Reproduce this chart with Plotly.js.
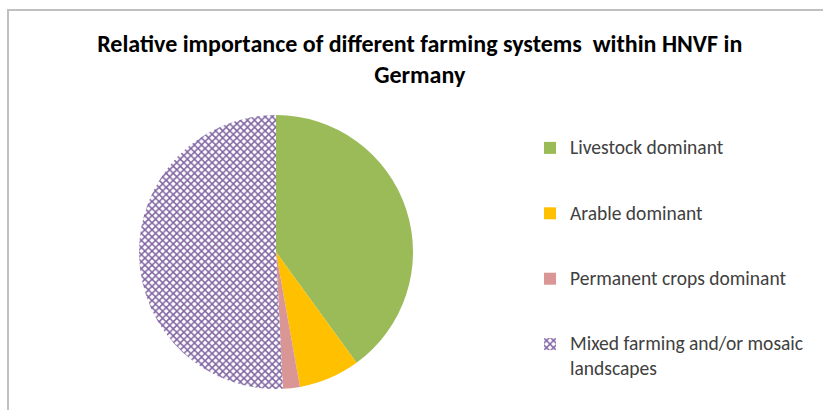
<!DOCTYPE html>
<html>
<head>
<meta charset="utf-8">
<script src="https://cdn.plot.ly/plotly-3.0.1.min.js"></script>
<style>html,body{margin:0;padding:0;background:#fff;}#chart{width:823px;height:410px;}</style>
</head>
<body>
<div id="chart"></div>
<script>
var categories = ["Livestock dominant", "Arable dominant", "Permanent crops dominant", "Mixed farming and/or mosaic<br>landscapes"];
var shares = [40, 7.2, 2, 50.8];
var colors = ["#9BBB59", "#FFC000", "#D99694", "#FFFFFF"];
var titleText = "Relative importance of different farming systems  within HNVF in<br>Germany";

var legendLabels = categories.map(function (c, i) {
  var parts = c.split("<br>");
  var styled = "<span style='font-size:19.5px'>" + parts[0] + "</span>";
  if (parts.length > 1) {
    styled += "<br><span style='font-size:19.5px;baseline-shift:-3.5px'>" + parts[1] + "</span>";
  }
  return i < categories.length - 1 ? styled + "<br> <br> " : styled;
});

var trace = {
  type: "pie",
  labels: legendLabels,
  values: shares,
  sort: false,
  direction: "clockwise",
  rotation: 0,
  textinfo: "none",
  hoverinfo: "none",
  domain: {x: [139 / 823, 413 / 823], y: [21 / 410, 295 / 410]},
  marker: {
    colors: colors,
    line: {width: 0},
    pattern: {
      shape: ["", "", "", "x"],
      fgcolor: "#8064A2",
      bgcolor: "#FFFFFF",
      size: 5,
      solidity: 0.5
    }
  }
};

var layout = {
  width: 823,
  height: 410,
  margin: {l: 0, r: 0, t: 0, b: 0},
  paper_bgcolor: "#FFFFFF",
  font: {family: "Carlito, 'Liberation Sans Narrow', 'Open Sans', sans-serif", color: "#404040"},
  title: {
    text: titleText,
    font: {family: "Carlito, 'Liberation Sans Narrow', 'Open Sans', sans-serif", size: 24, color: "#000000", weight: "bold"},
    x: 0.51, xanchor: "center",
    y: 1 - 52 / 410, yanchor: "top"
  },
  showlegend: true,
  legend: {
    x: 530 / 823, xanchor: "left",
    y: 1 - 131 / 410, yanchor: "top",
    font: {size: 16, color: "#404040"},
    valign: "top",
    itemwidth: 30,
    bgcolor: "rgba(0,0,0,0)"
  },
  shapes: [{
    type: "rect", xref: "paper", yref: "paper",
    x0: 8 / 823, x1: 1.01, y0: -0.02, y1: 1 - 10 / 410,
    line: {color: "#C0C0C0", width: 2}
  }]
};

Plotly.newPlot("chart", [trace], layout, {staticPlot: true, displayModeBar: false});
</script>
</body>
</html>
